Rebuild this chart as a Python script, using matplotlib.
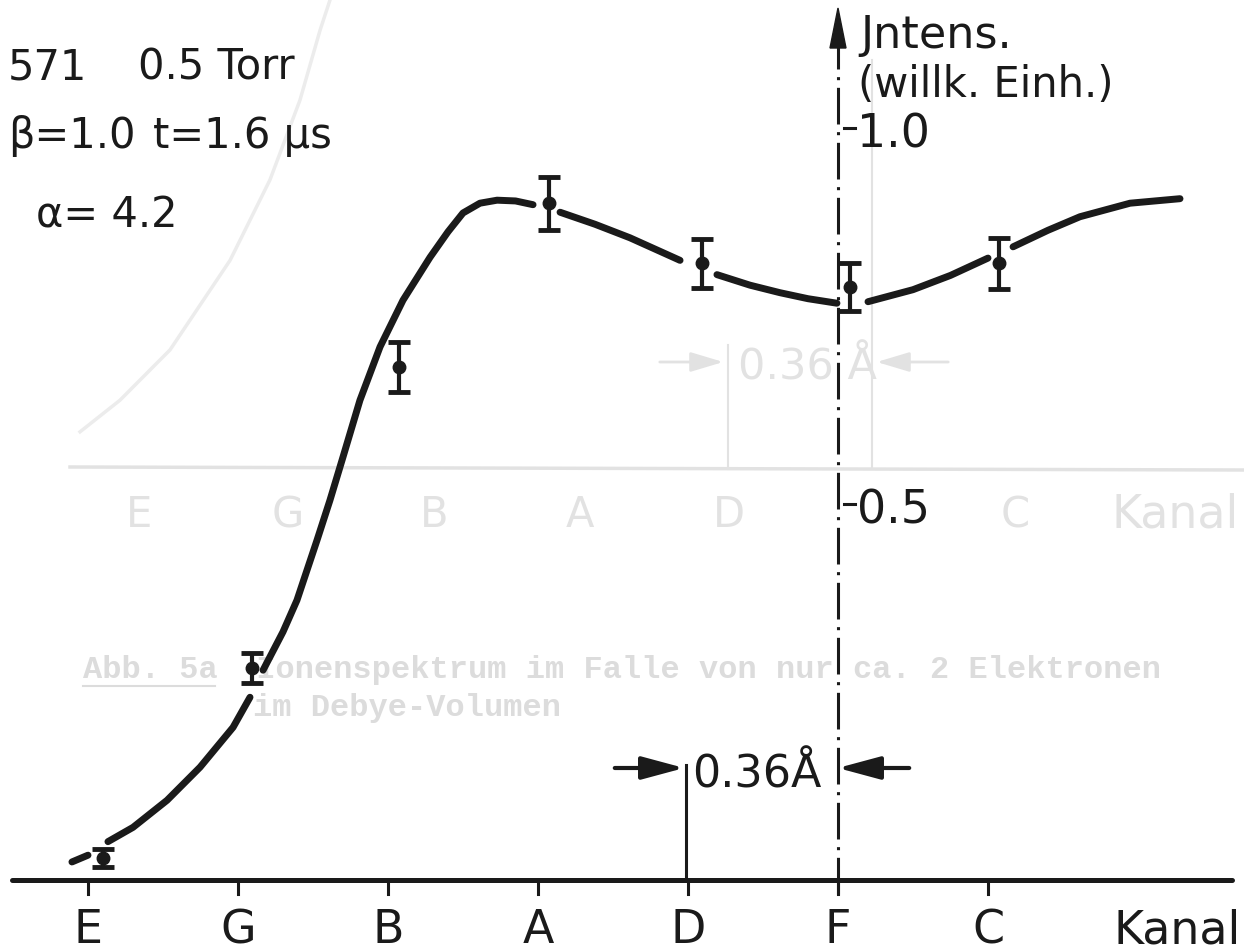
import matplotlib
matplotlib.use("Agg")
import matplotlib.pyplot as plt
import numpy as np

# channels on the x axis (one unit per channel)
channels = ['E', 'G', 'B', 'A', 'D', 'F', 'C']

# measured points with error bars
point_x = [0.10, 1.09, 2.07, 3.07, 4.09, 5.08, 6.07]
point_y = [0.029, 0.282, 0.682, 0.900, 0.820, 0.789, 0.820]
point_err = [0.012, 0.020, 0.033, 0.035, 0.033, 0.032, 0.034]

# hand drawn curve (nan = gap at a point)
nan = np.nan
curve_x = [-0.107, 0.0, nan,
           0.133, 0.30, 0.527, 0.747, 0.967, 1.08, nan,
           1.167, 1.30, 1.393, 1.527, 1.613, 1.70, 1.813, 1.947, 2.10, 2.28,
           2.40, 2.50, 2.613, 2.727, 2.85, 2.967, nan,
           3.147, 3.38, 3.613, 3.947, nan,
           4.193, 4.413, 4.613, 4.80, 4.993, nan,
           5.20, 5.50, 5.75, 6.0, nan,
           6.167, 6.40, 6.613, 6.947, 7.28]
curve_y = [0.024, 0.033, nan,
           0.051, 0.070, 0.106, 0.150, 0.203, 0.243, nan,
           0.279, 0.330, 0.372, 0.452, 0.505, 0.5625, 0.638, 0.709, 0.771, 0.828,
           0.862, 0.887, 0.900, 0.904, 0.903, 0.898, nan,
           0.888, 0.872, 0.854, 0.824, nan,
           0.805, 0.791, 0.781, 0.773, 0.767, nan,
           0.769, 0.785, 0.804, 0.827, nan,
           0.842, 0.864, 0.882, 0.900, 0.906]

y_ticks = [0.5, 1.0]
y_tick_labels = ['0.5', '1.0']

# faint show-through from the facing page
ghost_curve_x = [-0.053, 0.213, 0.547, 0.947, 1.213, 1.413, 1.547, 1.613]
ghost_curve_y = [0.596, 0.638, 0.705, 0.824, 0.931, 1.037, 1.130, 1.170]
ghost_labels = ['E', 'G', 'B', 'A', 'D', 'C']
ghost_label_x = [0.34, 1.33, 2.31, 3.28, 4.27, 6.18]

# pixel -> data helpers for placing decorations
X0, DX, Y0, DY = 88.0, 150.0, 880.0, 752.0
def dx(p): return (p - X0) / DX
def dy(p): return (Y0 - p) / DY

INK = '#1a1a1a'
GHOST = '#e2e2e2'

fig = plt.figure(figsize=(12.44, 9.52), dpi=100)
ax = fig.add_axes([0, 0, 1, 1])
ax.set_xlim(dx(0), dx(1244))
ax.set_ylim(dy(952), dy(0))
ax.axis('off')

# ---- ghost layer ----
ax.plot(ghost_curve_x, ghost_curve_y, color='#ececec', lw=2.5, zorder=0)
ax.plot([dx(70), dx(1244)], [dy(467), dy(470)], color=GHOST, lw=2.5, zorder=0)
ax.plot([dx(728), dx(728)], [dy(345), dy(467)], color=GHOST, lw=1.5, zorder=0)
ax.plot([dx(872), dx(872)], [dy(60), dy(467)], color=GHOST, lw=1.5, zorder=0)
for lab, gx in zip(ghost_labels, ghost_label_x):
    ax.text(gx, dy(527), lab, color=GHOST, fontsize=30, ha='center', va='baseline', zorder=0)
ax.text(dx(1112), dy(527), 'Kanal', color=GHOST, fontsize=33, ha='left', va='baseline', zorder=0)
ax.text(dx(738), dy(380), '0.36 Å', color=GHOST, fontsize=31, ha='left', va='baseline', zorder=0)
ax.annotate('', xy=(dx(726), dy(362)), xytext=(dx(657), dy(362)),
            arrowprops=dict(arrowstyle='-|>,head_length=1.0,head_width=0.3',
                            color=GHOST, lw=2, mutation_scale=20), zorder=0)
ax.annotate('', xy=(dx(874), dy(362)), xytext=(dx(951), dy(362)),
            arrowprops=dict(arrowstyle='-|>,head_length=1.0,head_width=0.3',
                            color=GHOST, lw=2, mutation_scale=20), zorder=0)
ax.text(dx(83), dy(678), 'Abb. 5a  Ionenspektrum im Falle von nur ca. 2 Elektronen',
        color='#dcdcdc', fontsize=23, ha='left', va='baseline', fontfamily='Liberation Mono',
        fontweight='bold', zorder=0)
ax.text(dx(253), dy(716), 'im Debye-Volumen', color='#dcdcdc', fontsize=23, ha='left',
        va='baseline', fontfamily='Liberation Mono', fontweight='bold', zorder=0)
ax.plot([dx(83), dx(215)], [dy(686), dy(686)], color='#dcdcdc', lw=1.5, zorder=0)

# ---- axes ----
ax.plot([dx(12), dx(1232)], [0, 0], color=INK, lw=3.6, solid_capstyle='round', zorder=2)
for i, name in enumerate(channels):
    ax.plot([i, i], [0, dy(894)], color=INK, lw=2.2, zorder=2)
    ax.text(i, dy(943), name, color=INK, fontsize=33, ha='center', va='baseline')
ax.text(dx(1241), dy(943), 'Kanal', color=INK, fontsize=33, ha='right', va='baseline')

# vertical dash-dot axis at F with arrow
yax = channels.index('F')
ax.plot([yax, yax], [dy(894), dy(40)], color=INK, lw=2.2,
        linestyle=(0, (12, 2.5, 1, 2.5)), zorder=2)
ax.fill([yax - 8 / DX, yax, yax + 8 / DX], [dy(48), dy(8), dy(48)], color=INK, zorder=3)
for t, lab in zip(y_ticks, y_tick_labels):
    ax.plot([yax + 6 / DX, yax + 17 / DX], [t, t], color=INK, lw=2.2, zorder=2)
    ax.text(yax + 19 / DX, t - 19 / DY, lab, color=INK, fontsize=33, ha='left', va='baseline')
ax.text(dx(860), dy(48), 'Jntens.', color=INK, fontsize=32, ha='left', va='baseline')
ax.text(dx(858), dy(97), '(willk. Einh.)', color=INK, fontsize=30, ha='left', va='baseline')

# ---- curve and data points ----
ax.plot(curve_x, curve_y, color=INK, lw=5, solid_capstyle='round',
        solid_joinstyle='round', zorder=4)
ax.errorbar(point_x, point_y, yerr=point_err, fmt='o', color=INK, ms=9,
            elinewidth=3, capsize=8, capthick=3.5, zorder=5)

# ---- 0.36 A dimension ----
dim_y = dy(768)
ax.plot([dx(686), dx(686)], [0, dy(765)], color=INK, lw=2.2, zorder=2)
ax.annotate('', xy=(dx(687), dim_y), xytext=(dx(612), dim_y),
            arrowprops=dict(arrowstyle='-|>,head_length=1.3,head_width=0.35',
                            color=INK, lw=3, mutation_scale=20), zorder=3)
ax.annotate('', xy=(dx(835), dim_y), xytext=(dx(912), dim_y),
            arrowprops=dict(arrowstyle='-|>,head_length=1.3,head_width=0.35',
                            color=INK, lw=3, mutation_scale=20), zorder=3)
ax.text(dx(692), dy(788), '0.36Å', color=INK, fontsize=32, ha='left', va='baseline')

# ---- parameters, top left ----
ax.text(dx(8), dy(80), '571', color=INK, fontsize=30, ha='left', va='baseline')
ax.text(dx(138), dy(80), '0.5 Torr', color=INK, fontsize=30, ha='left', va='baseline')
ax.text(dx(8), dy(148), 'β=1.0', color=INK, fontsize=30, ha='left', va='baseline')
ax.text(dx(153), dy(148), 't=1.6 μs', color=INK, fontsize=30, ha='left', va='baseline')
ax.text(dx(36), dy(228), 'α= 4.2', color=INK, fontsize=30, ha='left', va='baseline')

fig.savefig('out.png', dpi=100, facecolor='white')
